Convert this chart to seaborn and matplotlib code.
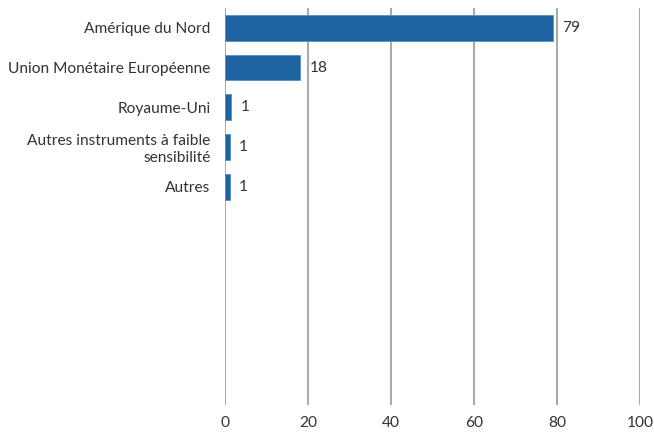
import matplotlib
matplotlib.use("Agg")
import matplotlib.pyplot as plt
import seaborn as sns
import pandas as pd

categories = ["Amérique du Nord", "Union Monétaire Européenne", "Royaume-Uni",
              "Autres instruments à faible\nsensibilité", "Autres"]
values = [79, 18, 1.5, 1.1, 1.1]
value_labels = ["79", "18", "1", "1", "1"]
x_ticks = [0, 20, 40, 60, 80, 100]

sns.set_theme(style="white")
plt.rcParams["font.family"] = ["Lato", "DejaVu Sans"]

df = pd.DataFrame({"cat": categories, "val": values})

fig = plt.figure(figsize=(6.54, 4.33), dpi=100)
ax = fig.add_axes([225/654, (433-405)/433, (640-225)/654, (405-8)/433])

sns.barplot(data=df, y="cat", x="val", order=categories, color="#1c63a0",
            width=0.65, saturation=1, edgecolor="#5a8fc0", linewidth=0.6, ax=ax)

for c, lab in zip(ax.containers, [value_labels]):
    ax.bar_label(c, labels=lab, padding=7, fontsize=11.2, color="#333333")

ax.set_xlim(0, 100)
ax.set_ylim(9.5, -0.5)
ax.set_xticks(x_ticks)
ax.set_xticklabels([str(t) for t in x_ticks])
ax.xaxis.grid(True, color="#aaaaaa", linewidth=1.5)
ax.set_axisbelow(True)
for s in ax.spines.values():
    s.set_visible(False)
ax.tick_params(axis="both", length=0, labelsize=11.2, colors="#333333")
ax.tick_params(axis="x", pad=8)
ax.tick_params(axis="y", pad=10.5)
ax.set_xlabel("")
ax.set_ylabel("")

fig.savefig("out.png", dpi=100)
